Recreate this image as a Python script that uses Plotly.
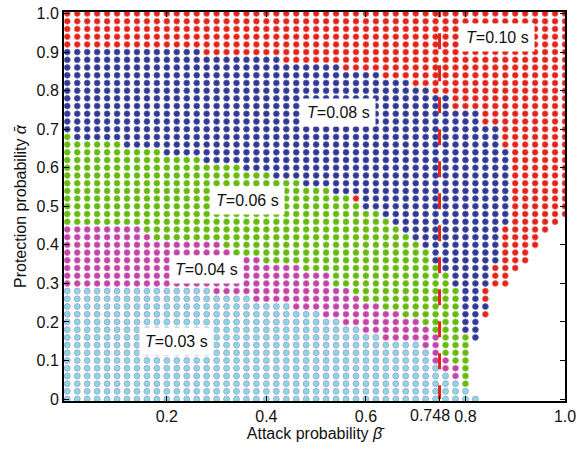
import plotly.graph_objects as go

# ---------------- data ----------------
beta_grid = [0.00, 0.02, 0.04, 0.06, 0.08, 0.10, 0.12, 0.14, 0.16, 0.18,
             0.20, 0.22, 0.24, 0.26, 0.28, 0.30, 0.32, 0.34, 0.36, 0.38,
             0.40, 0.42, 0.44, 0.46, 0.48, 0.50, 0.52, 0.54, 0.56, 0.58,
             0.60, 0.62, 0.64, 0.66, 0.68, 0.70, 0.72, 0.74, 0.76, 0.78,
             0.80, 0.82, 0.84, 0.86, 0.88, 0.90, 0.92, 0.94, 0.96, 0.98, 1.00]
alpha_grid = list(beta_grid)

# per row (alpha index): number of grid columns (from the left) up to the end of each region
cyan_end = [42, 41, 40, 39, 38, 37, 37, 36, 32, 30, 28, 26, 23, 19, 15, 0, 0,
            0, 0, 0, 0, 0, 0, 0, 0, 0, 0, 0, 0, 0, 0, 0, 0, 0, 0,
            0, 0, 0, 0, 0, 0, 0, 0, 0, 0, 0, 0, 0, 0, 0, 0]
magenta_end = [42, 41, 40, 40, 40, 39, 38, 38, 38, 37, 36, 34, 32, 30, 29, 27, 27,
               24, 20, 17, 16, 9, 8, 0, 0, 0, 0, 0, 0, 0, 0, 0, 0, 0, 0,
               0, 0, 0, 0, 0, 0, 0, 0, 0, 0, 0, 0, 0, 0, 0, 0]
green_end = [42, 41, 41, 41, 41, 41, 41, 41, 41, 40, 40, 40, 40, 40, 40, 39, 39,
             38, 37, 37, 36, 35, 34, 33, 32, 30, 29, 27, 24, 21, 18, 14, 10, 6, 1,
             0, 0, 0, 0, 0, 0, 0, 0, 0, 0, 0, 0, 0, 0, 0, 0]
blue_end = [42, 41, 41, 41, 41, 41, 41, 41, 42, 42, 42, 42, 43, 42, 42, 43, 43,
            43, 44, 44, 44, 44, 44, 45, 45, 45, 45, 45, 45, 45, 45, 45, 45, 44, 44,
            44, 42, 42, 39, 39, 37, 35, 32, 28, 22, 14, 0, 0, 0, 0, 0]
red_end = [42, 41, 41, 41, 41, 41, 41, 41, 42, 42, 42, 43, 43, 43, 43, 45, 45,
           46, 47, 47, 48, 48, 49, 50, 51, 51, 51, 51, 51, 51, 51, 51, 51, 51, 51,
           51, 51, 51, 51, 51, 51, 51, 51, 51, 51, 51, 51, 51, 51, 51, 51]

# isolated points that differ from their neighbours
odd_beta = [0.58]
odd_alpha = [0.52]
odd_class = [4]

class_names = ["T=0.03 s", "T=0.04 s", "T=0.06 s", "T=0.08 s", "T=0.10 s"]
class_fill = ["#8CD7E6", "#C244A6", "#66BA0C", "#2F3893", "#E2231B"]
class_line = ["#9A98C4", "#D77CC4", "#8CCB50", "#6A6FB2", "#EE7A72"]

threshold_beta = 0.748

x_tickvals = [0.2, 0.4, 0.6, threshold_beta, 0.8, 1.0]
x_ticktext = ["0.2", "0.4", "0.6", "", "0.8", "1.0"]
threshold_label = "0.748"
y_tickvals = [0, 0.1, 0.2, 0.3, 0.4, 0.5, 0.6, 0.7, 0.8, 0.9, 1.0]
y_ticktext = ["0", "0.1", "0.2", "0.3", "0.4", "0.5", "0.6", "0.7", "0.8", "0.9", "1.0"]

label_text = ["<i>T</i>=0.03 s", "<i>T</i>=0.04 s", "<i>T</i>=0.06 s", "<i>T</i>=0.08 s", "<i>T</i>=0.10 s"]
label_beta = [0.220, 0.280, 0.362, 0.545, 0.864]
label_alpha = [0.150, 0.337, 0.516, 0.744, 0.937]

# ---------------- build ----------------
odd = {(round(b, 3), round(a, 3)): k for b, a, k in zip(odd_beta, odd_alpha, odd_class)}
pts = [([], []) for _ in class_names]
for i, a in enumerate(alpha_grid):
    for j, b in enumerate(beta_grid):
        if j < cyan_end[i]:
            k = 0
        elif j < magenta_end[i]:
            k = 1
        elif j < green_end[i]:
            k = 2
        elif j < blue_end[i]:
            k = 3
        elif j < red_end[i]:
            k = 4
        else:
            continue
        k = odd.get((round(b, 3), round(a, 3)), k)
        pts[k][0].append(b)
        pts[k][1].append(a)

fig = go.Figure()
for k, name in enumerate(class_names):
    fig.add_trace(go.Scatter(
        x=pts[k][0], y=pts[k][1], mode="markers", name=name,
        marker=dict(size=6, color=class_fill[k],
                    line=dict(width=0.7, color=class_line[k])),
        hoverinfo="x+y+name",
    ))

fig.add_trace(go.Scatter(
    x=[threshold_beta, threshold_beta], y=[1.032, 0.0], mode="lines",
    line=dict(color="#E0231D", width=3, dash="16px,16px"),
    hoverinfo="skip", showlegend=False,
))

for t, bx, ay in zip(label_text, label_beta, label_alpha):
    fig.add_annotation(x=bx, y=ay, text=t, showarrow=False,
                       bgcolor="white", borderpad=5,
                       font=dict(size=16, color="#111"))

# tick label of the threshold, nudged left so it does not collide with "0.8"
fig.add_annotation(x=threshold_beta, xref="x", y=0, yref="paper",
                   yanchor="top", xanchor="center", xshift=-10, yshift=-4,
                   text=threshold_label, showarrow=False,
                   font=dict(size=16, color="#111"))

axis_common = dict(showline=True, linecolor="black", linewidth=2, mirror="ticks",
                   ticks="inside", ticklen=5, tickcolor="black", tickwidth=1,
                   showgrid=False, zeroline=False, automargin=False,
                   tickfont=dict(size=16, color="#111"))

fig.update_layout(
    width=581, height=451,
    margin=dict(l=64, r=16, t=12, b=50),
    paper_bgcolor="white", plot_bgcolor="white",
    showlegend=False,
    font=dict(family="Liberation Sans, Arial, sans-serif", size=16, color="#111"),
    xaxis=dict(range=[-0.0066, 1.0], tickvals=x_tickvals, ticktext=x_ticktext,
               tickangle=0,
               title=dict(text="Attack probability <i>β\u0304</i>", font=dict(size=16), standoff=4),
               **axis_common),
    yaxis=dict(range=[-0.005, 1.004], tickvals=y_tickvals, ticktext=y_ticktext,
               title=dict(text="Protection probability <i>α\u0304</i>", font=dict(size=16), standoff=6),
               **axis_common),
)

fig.write_html("out.html")
